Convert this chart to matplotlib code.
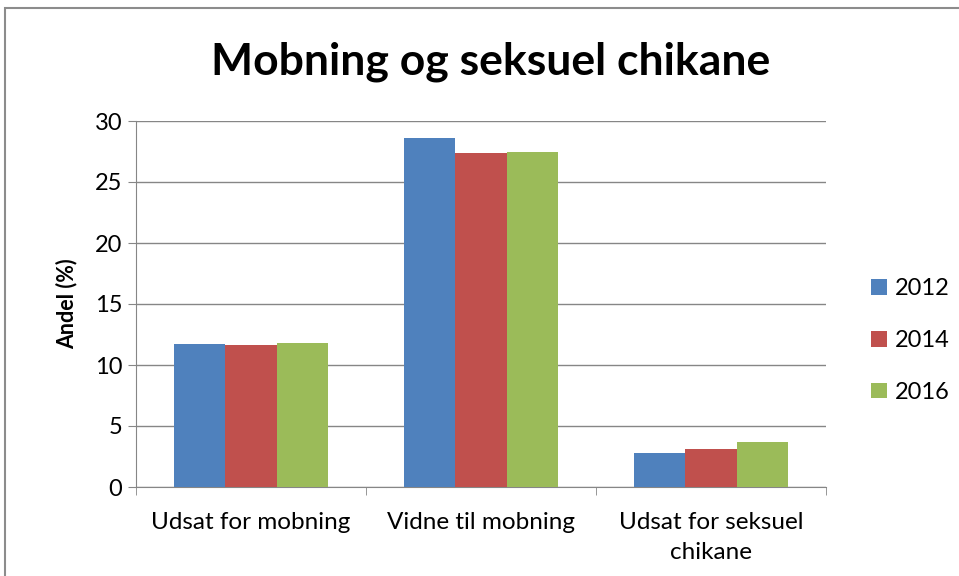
import numpy as np
import matplotlib
matplotlib.use("Agg")
import matplotlib.pyplot as plt
from matplotlib.patches import Rectangle

plt.rcParams['font.family'] = ['Lato', 'DejaVu Sans']

# data
categories = ['Udsat for mobning', 'Vidne til mobning', 'Udsat for seksuel\nchikane']
years = ['2012', '2014', '2016']
v2012 = [11.7, 28.6, 2.75]
v2014 = [11.6, 27.4, 3.1]
v2016 = [11.8, 27.5, 3.7]
colors = ['#4F81BD', '#C0504D', '#9BBB59']

fig = plt.figure(figsize=(9.59, 5.76), dpi=100)
ax = fig.add_axes([136 / 959, 1 - 487 / 576, 690 / 959, 366 / 576])

# outer chart border
fig.patches.append(Rectangle((5 / 959, -0.05), 1.2, 1 - 8 / 576 + 0.05,
                             transform=fig.transFigure, fill=False,
                             edgecolor='#8C8C8C', linewidth=1.5))

x = np.arange(len(categories))
w = 0.222
for i, (vals, yr) in enumerate(zip([v2012, v2014, v2016], years)):
    ax.bar(x + (i - 1) * w, vals, width=w, color=colors[i], label=yr, zorder=3)

ax.set_xlim(-0.5, 2.5)
ax.set_ylim(0, 30)
ax.set_yticks(range(0, 31, 5))
ax.set_xticks(x)
ax.set_xticklabels(categories, fontsize=17.5, linespacing=1.55)
ax.tick_params(axis='x', length=0, pad=18)
ax.set_xticks([-0.5, 0.5, 1.5, 2.5], minor=True)
ax.tick_params(axis='x', which='minor', length=6, color='#868686', direction='out')
ax.tick_params(axis='y', labelsize=17, length=6, color='#868686', pad=4)
ax.grid(axis='y', color='#868686', linewidth=1, zorder=0)

for s in ['top', 'right']:
    ax.spines[s].set_visible(False)
for s in ['left', 'bottom']:
    ax.spines[s].set_color('#868686')

ax.set_ylabel('Andel (%)', fontsize=15.5, fontweight='bold', labelpad=12)

fig.text(0.512, 0.893, 'Mobning og seksuel chikane', fontsize=32,
         fontweight='bold', ha='center', va='center')

ax.legend(loc='center left', bbox_to_anchor=(1.035, 0.40), frameon=False,
          fontsize=17, handlelength=0.65, handleheight=0.65, labelspacing=1.3,
          handletextpad=0.35)

fig.savefig('out.png', dpi=100)
